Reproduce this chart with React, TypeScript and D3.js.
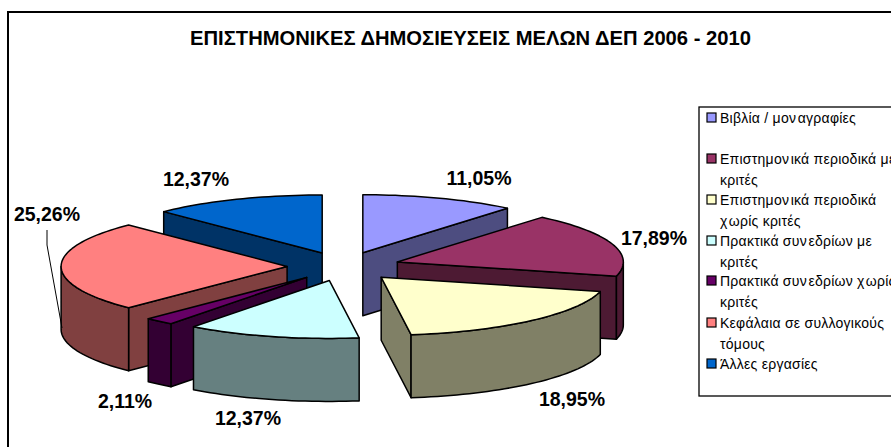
import { line, pie, range, scaleLinear } from "d3";

const WIDTH = 891;
const HEIGHT = 447;

const TITLE = "ΕΠΙΣΤΗΜΟΝΙΚΕΣ ΔΗΜΟΣΙΕΥΣΕΙΣ ΜΕΛΩΝ ΔΕΠ 2006 - 2010";
const values = [11.05, 17.89, 18.95, 12.37, 2.11, 25.26, 12.37];
const valueLabels = ["11,05%", "17,89%", "18,95%", "12,37%", "2,11%", "25,26%", "12,37%"];
const topColors = ["#9999FF", "#993366", "#FFFFCC", "#CCFFFF", "#660066", "#FF8080", "#0066CC"];
const sideColors = ["#4D4D80", "#4D1A33", "#808066", "#668080", "#330033", "#804040", "#003366"];
const legendLines = [
  ["Βιβλία / μοναγραφίες"],
  ["Επιστημονικά περιοδικά με", "κριτές"],
  ["Επιστημονικά περιοδικά", "χωρίς κριτές"],
  ["Πρακτικά συνεδρίων με", "κριτές"],
  ["Πρακτικά συνεδρίων χωρίς", "κριτές"],
  ["Κεφάλαια σε συλλογικούς", "τόμους"],
  ["Άλλες εργασίες"],
];
const legendRows = [117, 158, 199, 240, 280, 322, 363];
const labelAnchors = [
  [479, 185],
  [654, 245],
  [572, 406],
  [248, 425],
  [125, 408],
  [47, 221],
  [196, 186],
];

const CX = 343.6;
const CY = 266.4;
const RX = 226;
const RY = 58;
const DEPTH = 63;
const EXPLODE = 0.25;
const FONT = "'Liberation Sans', Arial, sans-serif";

const slices = pie<number>().sort(null)(values);

const rimLine = line<number[]>().x((d) => d[0]).y((d) => d[1]);

function rim(ox: number, oy: number, a0: number, a1: number, drop = 0) {
  const steps = Math.max(2, Math.ceil((a1 - a0) / 0.03));
  const t = scaleLinear().domain([0, steps]).range([a0, a1]);
  return range(steps + 1).map((i) => [ox + RX * Math.sin(t(i)), oy - RY * Math.cos(t(i)) + drop]);
}

function Slice({ index }: { index: number }) {
  const s = slices[index];
  const mid = (s.startAngle + s.endAngle) / 2;
  const ox = CX + EXPLODE * RX * Math.sin(mid);
  const oy = CY - EXPLODE * RY * Math.cos(mid);
  const walls: number[][][] = [];
  // radial walls, only where they face the viewer
  for (const a of [s.startAngle, s.endAngle]) {
    const faces = a === s.startAngle ? a > Math.PI && a < 2 * Math.PI : a > 0 && a < Math.PI;
    if (faces) {
      const [edge] = rim(ox, oy, a, a);
      walls.push([[ox, oy], edge, [edge[0], edge[1] + DEPTH], [ox, oy + DEPTH]]);
    }
  }
  const a0 = Math.max(s.startAngle, Math.PI / 2);
  const a1 = Math.min(s.endAngle, (3 * Math.PI) / 2);
  if (a1 > a0) {
    walls.push([...rim(ox, oy, a0, a1), ...rim(ox, oy, a0, a1, DEPTH).reverse()]);
  }
  const top = [[ox, oy], ...rim(ox, oy, s.startAngle, s.endAngle)];
  return (
    <g stroke="#000" strokeWidth={1.5} strokeLinejoin="round">
      {walls.map((w, i) => (
        <path key={i} d={rimLine(w) + "Z"} fill={sideColors[index]} />
      ))}
      <path d={rimLine(top) + "Z"} fill={topColors[index]} />
    </g>
  );
}

// the source renders a small gap after these letters
function LegendText({ text, x, y }: { text: string; x: number; y: number }) {
  const parts = text.split(/(?<=[νχ])(?=[α-ωά-ώ])/);
  return (
    <text x={x} y={y} fontSize={14} letterSpacing={0.25} fill="#000">
      {parts.map((p, i) => (
        <tspan key={i} dx={i === 0 ? 0 : 1.5}>
          {p}
        </tspan>
      ))}
    </text>
  );
}

export default function App() {
  // back slices first, the ones closest to the viewer last
  const order = range(values.length).sort((a, b) => {
    const dist = (i: number) => Math.abs((slices[i].startAngle + slices[i].endAngle) / 2 - Math.PI);
    return dist(b) - dist(a);
  });

  return (
    <svg
      width={WIDTH}
      height={HEIGHT}
      viewBox={`0 0 ${WIDTH} ${HEIGHT}`}
      style={{ position: "absolute", left: 0, top: 0, background: "#fff" }}
      fontFamily={FONT}
    >
      <rect x={8} y={12} width={WIDTH + 20} height={HEIGHT + 20} fill="#fff" stroke="#000" strokeWidth={2} />
      <text x={470.5} y={45} textAnchor="middle" fontSize={20.2} fontWeight="bold" fill="#000">
        {TITLE}
      </text>

      {order.map((i) => (
        <Slice key={i} index={i} />
      ))}

      <path d={line()([[47, 230], [47, 245], [62, 328]]) ?? ""} fill="none" stroke="#000" strokeWidth={1} />

      {valueLabels.map((label, i) => (
        <text key={i} x={labelAnchors[i][0]} y={labelAnchors[i][1]} textAnchor="middle" fontSize={19.5} fontWeight="bold" fill="#000">
          {label}
        </text>
      ))}

      <rect x={699} y={107} width={WIDTH} height={289} fill="#fff" stroke="#000" strokeWidth={1.3} />
      {legendLines.map((lines, i) => (
        <g key={i}>
          <rect x={707} y={legendRows[i] - 4} width={9} height={9} fill={topColors[i]} stroke="#000" strokeWidth={1.2} />
          {lines.map((t, j) => (
            <LegendText key={j} text={t} x={720} y={legendRows[i] + 6 + j * 21} />
          ))}
        </g>
      ))}
    </svg>
  );
}
